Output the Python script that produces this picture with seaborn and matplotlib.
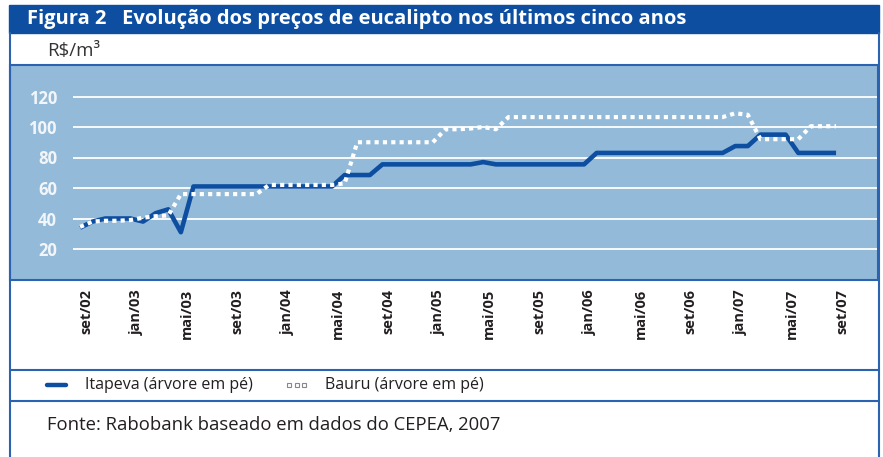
import pandas as pd
import seaborn as sns
import matplotlib.pyplot as plt
import matplotlib.transforms as mtransforms
from matplotlib.patches import Rectangle
from matplotlib.lines import Line2D

# Dados mensais, set/02 a set/07 (R$/m3)
meses = list(range(61))
itapeva = [34, 38, 40, 40, 40, 38, 43.5, 46, 31, 61,
           61, 61, 61, 61, 61, 61, 61, 61, 61, 61, 61,
           68.5, 68.5, 68.5,
           75.5, 75.5, 75.5, 75.5, 75.5, 75.5, 75.5, 75.5,
           77,
           75.5, 75.5, 75.5, 75.5, 75.5, 75.5, 75.5, 75.5,
           83, 83, 83, 83, 83, 83, 83, 83, 83, 83, 83,
           87.5, 87.5,
           95, 95, 95,
           83, 83, 83, 83]
bauru = [34.5, 38, 38.5, 38.5, 39, 40.5, 41.5, 42, 56,
         56, 56, 56, 56, 56, 56,
         62, 62, 62, 62, 62, 62,
         63,
         90, 90, 90, 90, 90, 90, 90,
         98.5, 98.5, 99, 100, 98.5,
         106.5, 106.5, 106.5, 106.5, 106.5, 106.5, 106.5, 106.5, 106.5,
         106.5, 106.5, 106.5, 106.5, 106.5, 106.5, 106.5, 106.5, 106.5,
         109, 108, 92, 92, 92, 92,
         100.5, 100.5, 100.5]
rotulos_x = ['set/02', 'jan/03', 'mai/03', 'set/03', 'jan/04', 'mai/04',
             'set/04', 'jan/05', 'mai/05', 'set/05', 'jan/06', 'mai/06',
             'set/06', 'jan/07', 'mai/07', 'set/07']
ticks_y = [20, 40, 60, 80, 100, 120]

df = pd.DataFrame({'mes': meses, 'Itapeva': itapeva, 'Bauru': bauru})

sns.set_theme(style='white')
plt.rcParams['font.family'] = ['Open Sans', 'DejaVu Sans']

W, H = 883, 457
fig = plt.figure(figsize=(W / 100, H / 100), dpi=100)


def fx(x):
    return x / W


def fy(y):
    return 1 - y / H


azul = '#0D4EA0'
painel = '#93BAD9'
borda = '#2B63B1'
texto = '#231F20'

# barra do titulo e painel do grafico
fig.add_artist(Rectangle((fx(9), fy(33)), fx(879) - fx(9), 28 / H,
                         transform=fig.transFigure, color=azul, zorder=-2))
fig.add_artist(Rectangle((fx(10), fy(280)), fx(878) - fx(10), 215 / H,
                         transform=fig.transFigure, facecolor=painel,
                         edgecolor=borda, lw=1.5, zorder=-2))
# moldura
for x in (9.5, 878.5):
    fig.add_artist(Line2D([fx(x)] * 2, [fy(33), fy(457)], color=borda, lw=1.5))
for y in (370, 401):
    fig.add_artist(Line2D([fx(9.5), fx(878.5)], [fy(y)] * 2, color=borda, lw=1.5))

ax = fig.add_axes([fx(73), fy(279.5), fx(877) - fx(73), (279.5 - 66) / H])
ax.patch.set_alpha(0)

sns.lineplot(data=df, x='mes', y='Itapeva', ax=ax, color=azul, lw=3.3,
             legend=False, solid_capstyle='butt')
sns.lineplot(data=df, x='mes', y='Bauru', ax=ax, color='white', lw=3,
             linestyle=(0, (1, 1)), dash_capstyle='butt', legend=False)

ax.set_xlim(-0.56, 63.25)
ax.set_ylim(0, 140)
ax.set_xlabel('')
ax.set_ylabel('')
for s in ax.spines.values():
    s.set_visible(False)
ax.yaxis.grid(True, color='white', lw=1.3)
ax.xaxis.grid(False)

ax.set_yticks(ticks_y)
ax.set_yticklabels([str(v) for v in ticks_y], fontweight='bold')
ax.tick_params(axis='y', length=0, pad=11.5, labelsize=12, labelcolor='#F2F6FA')

ax.set_xticks(range(0, 61, 4))
ax.set_xticklabels(rotulos_x, rotation=90, fontweight='bold')
ax.tick_params(axis='x', length=0, pad=7, labelsize=10.5, labelcolor=texto)
desloc = mtransforms.ScaledTranslation(6 / 100, 0, fig.dpi_scale_trans)
for lab in ax.get_xticklabels():
    lab.set_transform(lab.get_transform() + desloc)

# textos
fig.text(fx(27), fy(19), 'Figura 2   Evolução dos preços de eucalipto nos últimos cinco anos',
         color='white', fontweight='bold', fontsize=14.5, va='center')
fig.text(fx(47), fy(51), r'R\$/m³', color='#333333', fontsize=13.5, va='center')

# legenda
fig.add_artist(Line2D([fx(47), fx(66)], [fy(385)] * 2, color=azul, lw=3.2))
fig.text(fx(85), fy(385), 'Itapeva (árvore em pé)', va='center', fontsize=11.5, color=texto)
fig.add_artist(Line2D([fx(289), fx(296.5), fx(304)], [fy(385)] * 3, ls='none',
                      marker='s', ms=3.5, mfc='white', mec='#888888', mew=0.8))
fig.text(fx(325), fy(385), 'Bauru (árvore em pé)', va='center', fontsize=11.5, color=texto)

fig.text(fx(47), fy(425), 'Fonte: Rabobank baseado em dados do CEPEA, 2007',
         fontsize=13.3, color=texto, va='center')

fig.savefig('out.png', dpi=100)
